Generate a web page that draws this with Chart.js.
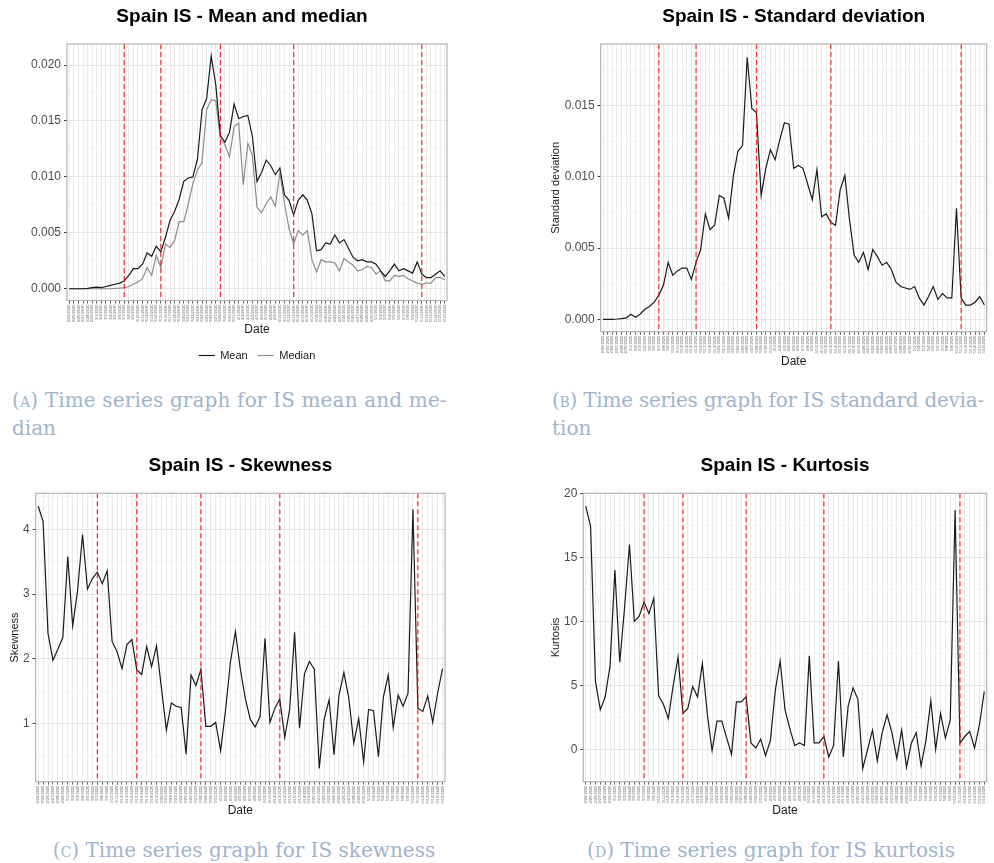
<!DOCTYPE html>
<html><head><meta charset="utf-8">
<script src="https://cdn.jsdelivr.net/npm/chart.js@4"></script>
<style>
html,body{margin:0;padding:0;background:#fff;overflow:hidden;width:994px;height:863px;}
canvas{position:absolute;}
.cap{position:absolute;font-family:"DejaVu Serif",serif;color:#9fb4cc;font-size:20px;line-height:28px;white-space:nowrap;}
.sc{font-variant:small-caps;}
</style></head><body>
<canvas id="cA" style="left:0;top:0"></canvas>
<canvas id="cB" style="left:540px;top:0"></canvas>
<canvas id="cC" style="left:0;top:449px"></canvas>
<canvas id="cD" style="left:540px;top:449px"></canvas>
<div class="cap" style="left:12px;top:386px;letter-spacing:0.15px">(<span class="sc">a</span>) Time series graph for IS mean and me-</div>
<div class="cap" style="left:12px;top:414px">dian</div>
<div class="cap" style="left:552px;top:386px;letter-spacing:-0.25px">(<span class="sc">b</span>) Time series graph for IS standard devia-</div>
<div class="cap" style="left:552px;top:414px">tion</div>
<div class="cap" style="left:0;top:836px;width:488px;text-align:center">(<span class="sc">c</span>) Time series graph for IS skewness</div>
<div class="cap" style="left:540px;top:836px;width:462px;text-align:center">(<span class="sc">d</span>) Time series graph for IS kurtosis</div>
<script>
const dates = ["2/24/2020","2/25/2020","2/26/2020","2/27/2020","2/28/2020","2/29/2020",
"3/1/2020","3/2/2020","3/3/2020","3/4/2020","3/5/2020","3/6/2020","3/7/2020","3/8/2020","3/9/2020","3/10/2020",
"3/11/2020","3/12/2020","3/13/2020","3/14/2020","3/15/2020","3/16/2020","3/17/2020","3/18/2020","3/19/2020","3/20/2020",
"3/21/2020","3/22/2020","3/23/2020","3/24/2020","3/25/2020","3/26/2020","3/27/2020","3/28/2020","3/29/2020","3/30/2020","3/31/2020",
"4/1/2020","4/2/2020","4/3/2020","4/4/2020","4/5/2020","4/6/2020","4/7/2020","4/8/2020","4/9/2020","4/10/2020",
"4/11/2020","4/12/2020","4/13/2020","4/14/2020","4/15/2020","4/16/2020","4/17/2020","4/18/2020","4/19/2020","4/20/2020",
"4/21/2020","4/22/2020","4/23/2020","4/24/2020","4/25/2020","4/26/2020","4/27/2020","4/28/2020","4/29/2020","4/30/2020",
"5/1/2020","5/2/2020","5/3/2020","5/4/2020","5/5/2020","5/6/2020","5/7/2020","5/8/2020","5/9/2020","5/10/2020",
"5/11/2020","5/12/2020","5/13/2020","5/14/2020","5/15/2020","5/16/2020"];

const eventDates = ["3/7/2020","3/15/2020","3/28/2020","4/13/2020","5/11/2020"];

const meanValues = [0,0,0,0,0.00003,0.0001,0.00015,0.0001,0.0002,0.0003,0.0004,0.0005,
0.0007,0.0012,0.0018,0.0018,0.0022,0.0032,0.0029,0.0038,0.0033,0.0046,0.0061,0.0069,0.0080,0.0096,
0.0099,0.0100,0.0116,0.0160,0.0170,0.0208,0.0182,0.0137,0.0131,0.0140,0.0165,0.0152,0.0154,0.0155,
0.0136,0.0096,0.0104,0.0115,0.0110,0.0102,0.0108,0.0084,0.0079,0.0066,0.0079,0.0084,0.0079,0.0067,
0.0034,0.0035,0.0041,0.0040,0.0048,0.0041,0.0044,0.0036,0.0028,0.0025,0.0026,0.0024,0.0024,0.0022,
0.0016,0.0011,0.0016,0.0022,0.0016,0.0018,0.0016,0.0014,0.0024,0.0013,0.0010,0.0010,0.0013,0.0016,0.0011];

const medianValues = [0,0,0,0,0,0,0,0,0,0,0.00003,0.00005,
0.0001,0.0002,0.0004,0.0006,0.0009,0.0019,0.0012,0.0030,0.0019,0.0040,0.0037,0.0043,0.0060,0.0060,
0.0076,0.0094,0.0106,0.0113,0.0160,0.0169,0.0168,0.0134,0.0129,0.0118,0.0145,0.0148,0.0093,0.0130,
0.0119,0.0073,0.0068,0.0076,0.0082,0.0074,0.0104,0.0076,0.0054,0.0040,0.0052,0.0048,0.0052,0.0026,
0.0015,0.0026,0.0024,0.0024,0.0023,0.0016,0.0027,0.0024,0.0021,0.0016,0.0017,0.0020,0.0019,0.0013,
0.0016,0.0007,0.0007,0.0012,0.0011,0.0012,0.0009,0.0007,0.0005,0.0004,0.0005,0.0005,0.0010,0.0010,0.0008];

const sdValues = [0,0,0,0.00002,0.00005,0.0001,0.00035,0.00014,0.00037,0.0007,0.0009,0.0012,
0.0017,0.0024,0.0040,0.0031,0.0034,0.0036,0.0036,0.0028,0.0040,0.0049,0.0074,0.0063,0.0066,0.0087,
0.0085,0.0071,0.0100,0.0118,0.0122,0.0184,0.0148,0.0145,0.0087,0.0106,0.0119,0.0112,0.0126,0.0138,
0.0137,0.0106,0.0108,0.0106,0.0095,0.0084,0.0105,0.0072,0.0074,0.0068,0.0066,0.0091,0.0101,0.0070,
0.0045,0.0040,0.0047,0.0035,0.0049,0.0044,0.0038,0.0040,0.0035,0.0026,0.0023,0.0022,0.0021,0.0023,
0.0015,0.0010,0.0016,0.0023,0.0014,0.0018,0.0015,0.0015,0.0078,0.0015,0.0010,0.0010,0.0012,0.0016,0.0010];

const skewValues = [4.36,4.12,2.39,1.98,2.15,2.33,3.58,2.51,3.06,3.92,
3.08,3.24,3.34,3.16,3.36,2.27,2.11,1.85,2.22,2.30,
1.83,1.76,2.19,1.88,2.20,1.55,0.90,1.32,1.27,1.25,
0.53,1.75,1.59,1.84,0.96,0.96,1.02,0.58,1.21,1.96,
2.42,1.84,1.39,1.07,0.95,1.11,2.32,1.02,1.24,1.38,
0.79,1.22,2.41,0.93,1.77,1.96,1.84,0.31,1.07,1.37,
0.52,1.44,1.79,1.39,0.70,1.08,0.41,1.22,1.20,0.49,
1.41,1.75,0.94,1.44,1.27,1.47,4.31,1.24,1.19,1.43,
1.02,1.47,1.85];

const kurtValues = [19.0,17.4,5.3,3.1,4.1,6.5,14.0,6.8,11.1,16.0,
10.0,10.4,11.5,10.6,11.8,4.2,3.5,2.4,5.0,7.2,
2.8,3.2,4.9,4.1,6.7,2.8,-0.1,2.2,2.2,0.9,
-0.4,3.7,3.7,4.1,0.5,0.1,0.8,-0.5,0.7,4.6,
6.9,3.1,1.6,0.3,0.5,0.3,7.3,0.5,0.5,1.0,
-0.6,0.3,6.9,-0.6,3.4,4.8,3.9,-1.5,0,1.5,
-0.9,1.3,2.7,1.3,-0.7,1.5,-1.4,0.5,1.3,-1.3,
0.7,3.8,0,2.8,0.9,2.3,18.7,0.5,1.0,1.4,
0.1,1.9,4.5];

const FONT = "'Liberation Sans', Arial, sans-serif";

const panelBorder = {
  id: 'panelBorder',
  afterDraw(chart) {
    const {ctx, chartArea: a} = chart;
    ctx.save();
    ctx.strokeStyle = '#b3b3b3';
    ctx.lineWidth = 1.2;
    ctx.strokeRect(a.left, a.top, a.right - a.left, a.bottom - a.top);
    ctx.restore();
  }
};

const eventLines = {
  id: 'eventLines',
  afterDatasetsDraw(chart) {
    const {ctx, chartArea: a, scales: {x}} = chart;
    ctx.save();
    ctx.beginPath();
    ctx.rect(a.left, a.top, a.right - a.left, a.bottom - a.top);
    ctx.clip();
    ctx.strokeStyle = 'rgba(255,0,0,0.8)';
    ctx.lineWidth = 1.3;
    ctx.setLineDash([5, 3]);
    eventDates.forEach(d => {
      const px = x.getPixelForValue(dates.indexOf(d));
      ctx.beginPath();
      ctx.moveTo(px, a.top);
      ctx.lineTo(px, a.bottom);
      ctx.stroke();
    });
    ctx.restore();
  }
};

function isMajor(v, major) {
  const r = v / major;
  return Math.abs(r - Math.round(r)) < 1e-6;
}

function makeChart(id, o) {
  const cv = document.getElementById(id);
  cv.width = o.w; cv.height = o.h;
  cv.style.width = o.w + 'px'; cv.style.height = o.h + 'px';
  const scales = {
    x: {
      type: 'category', offset: true,
      grid: {offset: false, color: '#ebebeb', lineWidth: 1, tickLength: 3, tickColor: '#333333', tickWidth: 0.8},
      border: {display: false},
      ticks: {autoSkip: false, maxRotation: 90, minRotation: 90, padding: 1, color: '#6b6b6b', font: {family: FONT, size: 4}},
      title: {display: true, text: 'Date', color: '#1a1a1a', font: {family: FONT, size: 12}, padding: {top: 0, bottom: o.datePad}},
      afterFit: s => { s.height = o.xH; }
    },
    y: {
      min: o.yMin, max: o.yMax,
      grid: {
        color: c => isMajor(c.tick.value, o.major) ? '#e5e5e5' : '#f4f4f4',
        lineWidth: 1, tickLength: 3,
        tickColor: c => isMajor(c.tick.value, o.major) ? '#333333' : 'rgba(0,0,0,0)'
      },
      border: {display: false},
      ticks: {
        stepSize: o.minor, maxTicksLimit: 40, includeBounds: false, padding: 3,
        color: '#4d4d4d', font: {family: FONT, size: 12},
        callback: v => isMajor(v, o.major) ? o.fmt(v) : ''
      },
      title: o.yTitle ? {display: true, text: o.yTitle, color: '#1a1a1a', font: {family: FONT, size: 11}, padding: {top: o.yTitlePad, bottom: 0}} : {display: false},
      afterFit: s => { s.width = o.yW; }
    }
  };
  if (o.rightSpace) {
    scales.spacer = {
      type: 'linear', position: 'right', display: true,
      grid: {display: false, drawTicks: false}, border: {display: false},
      ticks: {display: false},
      afterFit: s => { s.width = o.rightSpace; }
    };
  }
  return new Chart(cv, {
    type: 'line',
    data: {labels: dates, datasets: o.datasets},
    options: {
      responsive: false,
      animation: false,
      events: [],
      layout: {padding: {left: 0, right: o.padRight, top: 0, bottom: 0}},
      elements: {point: {radius: 0}, line: {tension: 0, borderWidth: 1.2}},
      plugins: {
        title: {
          display: true, text: o.title, color: '#000',
          fullSize: o.titleFull,
          font: {family: FONT, size: 19, weight: 'bold'},
          padding: {top: 5.5, bottom: o.titlePadBottom}
        },
        legend: o.legend || {display: false},
        tooltip: {enabled: false}
      },
      scales: scales
    },
    plugins: [panelBorder, eventLines]
  });
}

makeChart('cA', {
  w: 484, h: 371, padRight: 0, rightSpace: 37, xH: 39.5, datePad: 3, yW: 67,
  title: 'Spain IS - Mean and median', titleFull: true, titlePadBottom: 15.7,
  yMin: -0.00105, yMax: 0.02188, minor: 0.0025, major: 0.005, fmt: v => v.toFixed(3),
  datasets: [
    {label: 'Mean', data: meanValues, borderColor: '#1a1a1a', backgroundColor: '#1a1a1a', borderWidth: 1.2},
    {label: 'Median', data: medianValues, borderColor: '#8c8c8c', backgroundColor: '#8c8c8c', borderWidth: 1.2}
  ],
  legend: {
    display: true, position: 'bottom', fullSize: false,
    labels: {usePointStyle: true, pointStyle: 'line', pointStyleWidth: 16, padding: 10, color: '#1a1a1a', font: {family: FONT, size: 11}}
  }
});

makeChart('cB', {
  w: 454, h: 375, padRight: 7.3, xH: 43.3, datePad: 5.8, yW: 60.7,
  title: 'Spain IS - Standard deviation', titleFull: false, titlePadBottom: 15.7,
  yMin: -0.00087, yMax: 0.01933, minor: 0.0025, major: 0.005, fmt: v => v.toFixed(3),
  yTitle: 'Standard deviation', yTitlePad: 9.4,
  datasets: [{label: 'Standard deviation', data: sdValues, borderColor: '#1a1a1a', borderWidth: 1.2}]
});

makeChart('cC', {
  w: 484, h: 375, padRight: 39, xH: 42.3, datePad: 5.8, yW: 35.7,
  title: 'Spain IS - Skewness', titleFull: false, titlePadBottom: 16,
  yMin: 0.105, yMax: 4.556, minor: 0.5, major: 1, fmt: v => String(Math.round(v)),
  yTitle: 'Skewness', yTitlePad: 8.4,
  datasets: [{label: 'Skewness', data: skewValues, borderColor: '#1a1a1a', borderWidth: 1.2}]
});

makeChart('cD', {
  w: 454, h: 375, padRight: 7.3, xH: 42.3, datePad: 5.8, yW: 43.3,
  title: 'Spain IS - Kurtosis', titleFull: false, titlePadBottom: 16,
  yMin: -2.53, yMax: 20, minor: 2.5, major: 5, fmt: v => String(Math.round(v)),
  yTitle: 'Kurtosis', yTitlePad: 9.4,
  datasets: [{label: 'Kurtosis', data: kurtValues, borderColor: '#1a1a1a', borderWidth: 1.2}]
});
</script>
</body></html>
